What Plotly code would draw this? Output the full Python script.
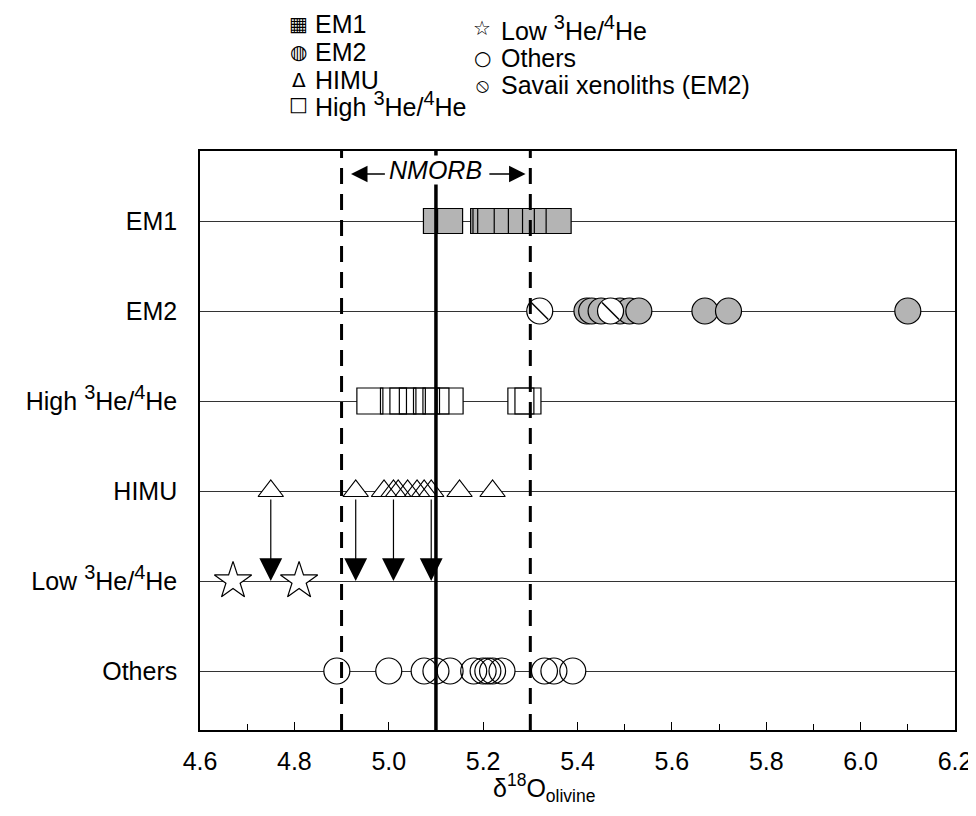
import plotly.graph_objects as go

# ---------------- data ----------------
SUP = "<sup><span style='font-size:20px'>{}</span></sup>"
ROW_LABELS = ["EM1", "EM2", "High " + SUP.format("3") + "He/" + SUP.format("4") + "He", "HIMU",
              "Low " + SUP.format("3") + "He/" + SUP.format("4") + "He", "Others"]
ROW_POS = [6, 5, 4, 3, 2, 1]

EM1 = [5.10, 5.13, 5.20, 5.205, 5.215, 5.25, 5.28, 5.31, 5.335, 5.36]
EM2 = [5.42, 5.43, 5.45, 5.49, 5.51, 5.53, 5.67, 5.72, 6.10]
SAVAII = [5.32, 5.47]
HIGH = [4.96, 5.01, 5.03, 5.05, 5.08, 5.10, 5.13, 5.28, 5.295]
HIMU = [4.75, 4.93, 4.99, 5.01, 5.02, 5.04, 5.06, 5.075, 5.09, 5.15, 5.22]
LOW = [4.67, 4.81]
OTHERS = [4.89, 5.00, 5.075, 5.10, 5.13, 5.18, 5.20, 5.21, 5.22, 5.24, 5.33, 5.35, 5.39]
SHIFTED = [4.75, 4.93, 5.01, 5.09]          # HIMU samples moved to Low 3He/4He
NMORB_RANGE = [4.9, 5.3]
NMORB_MEAN = 5.1
X_TICKS = [4.6, 4.8, 5.0, 5.2, 5.4, 5.6, 5.8, 6.0, 6.2]
X_TICK_TEXT = ["4.6", "4.8", "5.0", "5.2", "5.4", "5.6", "5.8", "6.0", "6.2"]

# ---------------- layout geometry ----------------
W, H = 976, 816
PL, PR, PT, PB = 192, 957, 143, 722
FONT = "Liberation Sans, Arial, DejaVu Sans, sans-serif"
STIPPLE = "#b4b4b4"


def px_x(px):
    return (px - PL) / (PR - PL)


def px_y(py):
    return (PB - py) / (PB - PT)


rowy = dict(zip(["EM1", "EM2", "HIGH", "HIMU", "LOW", "OTHERS"], ROW_POS))

fig = go.Figure()


def add_series(xs, row, symbol, size, fill, outline=True, lw=1.2):
    ys = [row] * len(xs)
    fig.add_trace(go.Scatter(
        x=xs, y=ys, mode="markers", showlegend=False, hoverinfo="skip",
        marker=dict(symbol=symbol, size=size, color=fill,
                    line=dict(width=lw if not outline else 0, color="black"))))
    if outline:
        fig.add_trace(go.Scatter(
            x=xs, y=ys, mode="markers", showlegend=False, hoverinfo="skip",
            marker=dict(symbol=symbol + "-open", size=size, color="black",
                        line=dict(width=lw, color="black"))))


add_series(EM1, rowy["EM1"], "square", 25, STIPPLE, outline=False)
add_series(EM2, rowy["EM2"], "circle", 26, STIPPLE, outline=False)
add_series(SAVAII, rowy["EM2"], "circle", 26, "white", outline=False)
fig.add_trace(go.Scatter(
    x=SAVAII, y=[rowy["EM2"]] * len(SAVAII), mode="markers", showlegend=False,
    hoverinfo="skip",
    marker=dict(symbol="line-nw", size=17, color="black",
                line=dict(width=1.5, color="black"))))
add_series(HIGH, rowy["HIGH"], "square", 26, "white")
add_series(HIMU, rowy["HIMU"], "triangle-up", 22, "white")
add_series(LOW, rowy["LOW"], "star", 28, "white")
add_series(OTHERS, rowy["OTHERS"], "circle", 26, "white")

# NMORB lines
for xv in NMORB_RANGE:
    fig.add_shape(type="line", xref="x", yref="paper", x0=xv, x1=xv, y0=0, y1=1,
                  line=dict(color="black", width=3, dash="16px,10px"), layer="above")
fig.add_shape(type="line", xref="x", yref="paper", x0=NMORB_MEAN, x1=NMORB_MEAN,
              y0=0, y1=1, line=dict(color="black", width=3.5), layer="above")

annotations = []
# arrows HIMU -> Low
for xv in SHIFTED:
    annotations.append(dict(
        x=xv, y=rowy["LOW"], xref="x", yref="y", ax=xv, ay=rowy["HIMU"],
        axref="x", ayref="y", text="", showarrow=True, arrowhead=2,
        arrowsize=3.8, arrowwidth=1.2, arrowcolor="black", standoff=0,
        startstandoff=7))

# NMORB label and arrows
ny = px_y(166)
annotations.append(dict(x=NMORB_MEAN, y=ny, xref="x", yref="paper", text="<i>NMORB</i>",
                        showarrow=False, yanchor="middle", yshift=4,
                        font=dict(size=25, family=FONT, color="black"),
                        bgcolor="white", borderpad=0))
annotations.append(dict(x=NMORB_RANGE[0] + 0.02, y=ny, xref="x", yref="paper",
                        ax=NMORB_MEAN - 0.105, ay=0, axref="x", text="", showarrow=True,
                        arrowhead=2, arrowsize=2.2, arrowwidth=1.5, arrowcolor="black"))
annotations.append(dict(x=NMORB_RANGE[1] - 0.01, y=ny, xref="x", yref="paper",
                        ax=NMORB_MEAN + 0.11, ay=0, axref="x", text="", showarrow=True,
                        arrowhead=2, arrowsize=2.2, arrowwidth=1.5, arrowcolor="black"))

# x-axis title
annotations.append(dict(x=px_x(541), y=px_y(800), xref="paper", yref="paper",
                        text="δ<sup>18</sup>O<sub>olivine</sub>", showarrow=False,
                        font=dict(size=25, family=FONT, color="black")))

# legend (typed symbols, as in the original figure)
LEG1 = [("▦", "EM1"), ("◍", "EM2"), ("Δ", "HIMU"),
        ("□", "High " + SUP.format("3") + "He/" + SUP.format("4") + "He")]
LEG2 = [("☆", "Low " + SUP.format("3") + "He/" + SUP.format("4") + "He"),
        ("○", "Others"), ("⦸", "Savaii xenoliths (EM2)")]
col1_sym, col1_txt, col1_rows = 292, 306, [16, 44, 72, 96]
col2_sym, col2_txt, col2_rows = 478, 495, [20, 50, 77]
for (sym, txt), ry in zip(LEG1, col1_rows):
    annotations.append(dict(x=px_x(col1_sym), y=px_y(ry), xref="paper", yref="paper",
                            text=sym, showarrow=False, xanchor="center", yanchor="middle",
                            font=dict(size=20, family="DejaVu Sans", color="black")))
    annotations.append(dict(x=px_x(col1_txt), y=px_y(ry), xref="paper", yref="paper",
                            text=txt, showarrow=False, xanchor="left", yanchor="middle",
                            font=dict(size=25, family=FONT, color="black")))
for (sym, txt), ry in zip(LEG2, col2_rows):
    annotations.append(dict(x=px_x(col2_sym), y=px_y(ry), xref="paper", yref="paper",
                            text=sym, showarrow=False, xanchor="center", yanchor="middle",
                            font=dict(size=20, family="DejaVu Sans", color="black")))
    annotations.append(dict(x=px_x(col2_txt), y=px_y(ry), xref="paper", yref="paper",
                            text=txt, showarrow=False, xanchor="left", yanchor="middle",
                            font=dict(size=25, family=FONT, color="black")))

fig.update_layout(
    width=W, height=H,
    margin=dict(l=PL, r=W - PR, t=PT, b=H - PB),
    paper_bgcolor="white", plot_bgcolor="white",
    showlegend=False,
    annotations=annotations,
    font=dict(family=FONT, size=25, color="black"),
    xaxis=dict(range=[4.6, 6.2], tickvals=X_TICKS, ticktext=X_TICK_TEXT,
               ticks="inside", ticklen=8, tickwidth=1.2, tickcolor="black",
               minor=dict(dtick=0.1, tick0=4.6, ticks="inside", ticklen=6,
                          tickwidth=1.2, tickcolor="black", showgrid=False),
               showgrid=False, zeroline=False, showline=True, linecolor="black",
               linewidth=1.5, mirror=True, ticklabelstandoff=8,
               tickfont=dict(size=25, family=FONT, color="black")),
    yaxis=dict(range=[1 - (PB - 663) / 90.0, 6 + (213 - PT) / 90.0],
               tickvals=ROW_POS, ticktext=ROW_LABELS, ticks="",
               showgrid=True, gridcolor="#333333", gridwidth=1,
               zeroline=False, showline=True, linecolor="black", linewidth=1.5,
               mirror=True, ticklabelstandoff=16,
               tickfont=dict(size=25, family=FONT, color="black")),
)

fig.write_html("out.html")
